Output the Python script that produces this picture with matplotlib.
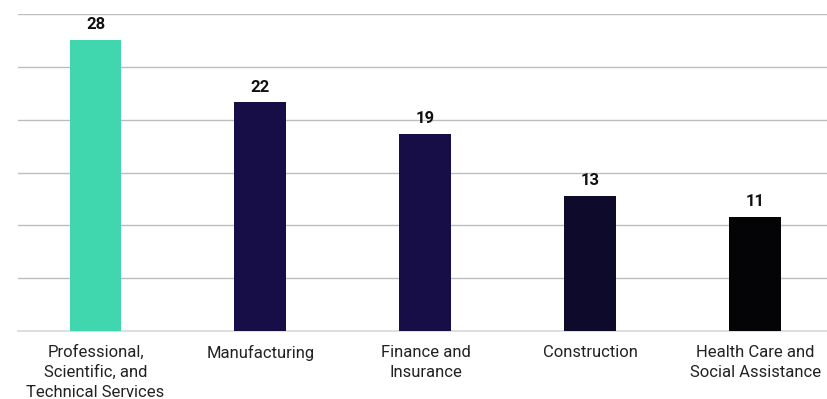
import numpy as np
import matplotlib.pyplot as plt

plt.rcParams['font.family'] = ['Roboto', 'DejaVu Sans']

industries = ['Professional,\nScientific, and\nTechnical Services', 'Manufacturing',
              'Finance and\nInsurance', 'Construction', 'Health Care and\nSocial Assistance']
shares = [28, 22, 19, 13, 11]
bar_colors = ['#40D6AE', '#170E48', '#170E47', '#0E0A2C', '#040306']

fig = plt.figure(figsize=(8.28, 3.99), dpi=100)
ax = fig.add_axes([0.0217, 0.1704, 0.9783, 0.7945])

x = range(len(industries))
bars = ax.bar(x, shares, width=0.315, color=bar_colors, zorder=3)

for b, v in zip(bars, shares):
    ax.annotate(str(v), (b.get_x() + b.get_width() / 2, v), xytext=(0, 5.5),
                textcoords='offset points', ha='center', va='bottom',
                fontsize=12, fontweight='bold', color='#111111')

ymax = 30.5
ax.set_ylim(0, ymax)
ax.set_xlim(-0.47, 4.44)
ax.set_yticks(np.linspace(0, ymax, 7))
ax.yaxis.grid(True, color='#BDBDBD', linewidth=1.0, zorder=0)
ax.set_yticklabels([])
ax.tick_params(axis='y', length=0)
ax.set_xticks(list(x))
ax.set_xticklabels(industries, fontsize=12, color='#222222', linespacing=1.4)
ax.tick_params(axis='x', length=0, pad=10)

for side in ['top', 'right', 'left']:
    ax.spines[side].set_visible(False)
ax.spines['bottom'].set_color('#D9D9D9')
ax.spines['bottom'].set_linewidth(1.2)

fig.savefig('out.png', dpi=100)
